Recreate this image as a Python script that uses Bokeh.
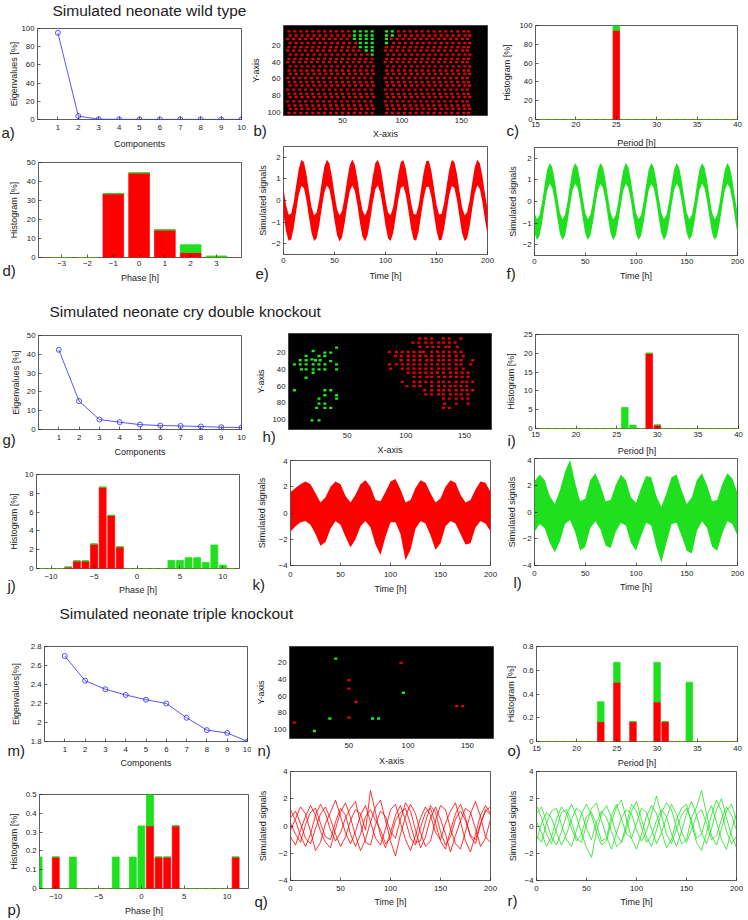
from math import pi
from bokeh.plotting import figure
from bokeh.layouts import column, row
from bokeh.models import Range1d, LinearAxis, FixedTicker, CustomJSTickFormatter, GridBox, Spacer
from bokeh.core.properties import value
from bokeh.embed import file_html
from bokeh.resources import INLINE

FONT = "Liberation Sans"
RED = "#ff0000"
GREEN = "#1fe01f"
BLUE = "#2a2aff"
TXT_COLOR = "#222222"
TICK_FS = "7.8px"
AX_FS = "9px"
TITLE_FS = "15.5px"
PANEL_FS = "15px"

# ------------------------------------------------------------------ data
components = [1, 2, 3, 4, 5, 6, 7, 8, 9, 10]
eig_wt = [95.2, 3.8, 0.3, 0.2, 0.1, 0.1, 0.1, 0.1, 0.1, 0.1]
eig_cry = [42.4, 15.1, 5.3, 3.9, 2.6, 2.1, 1.9, 1.6, 1.2, 1.05]
eig_tko = [2.70, 2.44, 2.35, 2.29, 2.24, 2.20, 2.05, 1.92, 1.89, 1.80]

period_bins = [15, 16, 17, 18, 19, 20, 21, 22, 23, 24, 25, 26, 27, 28, 29, 30, 31, 32, 33, 34, 35, 36, 37, 38, 39, 40]
wt_period_red = [0, 0, 0, 0, 0, 0, 0, 0, 0, 0, 95, 0, 0, 0, 0, 0, 0, 0, 0, 0, 0, 0, 0, 0, 0, 0]
wt_period_green = [0, 0, 0, 0, 0, 0, 0, 0, 0, 0, 5, 0, 0, 0, 0, 0, 0, 0, 0, 0, 0, 0, 0, 0, 0, 0]
cry_period_red = [0, 0, 0, 0, 0, 0, 0, 0, 0, 0, 0, 0, 0, 0, 20, 0.9, 0, 0, 0, 0, 0, 0, 0, 0, 0, 0]
cry_period_green = [0, 0, 0, 0, 0, 0, 0, 0, 0, 0, 0, 5.6, 0.9, 0, 0, 0, 0, 0, 0, 0, 0, 0, 0, 0, 0, 0]
tko_period_red = [0, 0, 0, 0, 0, 0, 0, 0, 0.167, 0, 0.5, 0, 0.167, 0, 0, 0.333, 0.167, 0, 0, 0, 0, 0, 0, 0, 0, 0]
tko_period_green = [0, 0, 0, 0, 0, 0, 0, 0, 0.167, 0, 0.167, 0, 0, 0, 0, 0.333, 0, 0, 0, 0.5, 0, 0, 0, 0, 0, 0]

wt_phase_bins = [-3, -2, -1, 0, 1, 2, 3]
wt_phase_red = [0, 0, 33.6, 44.5, 14.5, 2.6, 0]
wt_phase_green = [0, 0, 0, 0, 0, 4.1, 0.8]

cry_phase_bins = [-11, -10, -9, -8, -7, -6, -5, -4, -3, -2, -1, 0, 1, 2, 3, 4, 5, 6, 7, 8, 9, 10, 11]
cry_phase_red = [0, 0, 0, 0.15, 0.8, 0.8, 2.6, 8.65, 5.65, 2.3, 0, 0, 0, 0, 0, 0, 0, 0, 0, 0, 0, 0, 0]
cry_phase_green = [0, 0, 0, 0, 0, 0, 0, 0, 0, 0, 0, 0, 0, 0, 0, 0.85, 0.85, 1.15, 1.15, 0.65, 2.5, 0.35, 0]

tko_phase_bins = [-12, -11, -10, -9, -8, -7, -6, -5, -4, -3, -2, -1, 0, 1, 2, 3, 4, 5, 6, 7, 8, 9, 10, 11]
tko_phase_red = [0, 0, 0.167, 0, 0, 0, 0, 0, 0, 0, 0, 0, 0, 0.333, 0.167, 0.167, 0.333, 0, 0, 0, 0, 0, 0, 0.167]
tko_phase_green = [0.167, 0, 0, 0, 0.167, 0, 0, 0, 0, 0.167, 0, 0.167, 0.333, 0.167, 0, 0, 0, 0, 0, 0, 0, 0, 0, 0]

# wild type cell map (grid of cells, green ones listed; each row slightly offset as in the picture)
wt_cols = [5, 10, 15, 20, 25, 30, 35, 40, 45, 50, 55, 60, 65, 70, 75,
           87, 92, 97, 102, 107, 112, 117, 122, 127, 132, 137, 142, 147, 152, 156]
wt_rows = [3, 8, 12, 17, 22, 26, 31, 36, 40, 45, 50, 54, 59, 64, 68, 73, 78, 82, 87, 92, 96, 101]
wt_row_shift = [0, 1, -1, 1, 0, -1, 1, 0, -1, 1, 0, 1, -1, 0, 1, -1, 0, 1, -1, 0, 1, 0]
wt_green_x = [60, 65, 70, 75, 87, 92, 60, 65, 70, 75, 87, 92, 60, 65, 70, 75, 87, 65, 70, 75, 87, 65, 70, 75, 70, 75, 75]
wt_green_y = [3, 3, 3, 3, 3, 3, 8, 8, 8, 8, 8, 8, 12, 12, 12, 12, 12, 17, 17, 17, 17, 22, 22, 22, 26, 26, 31]

# cry double knockout cell map
cry_green_x = [21, 41, 31, 36, 15, 26, 31, 20, 10, 15, 23, 27, 36, 5, 10, 15, 21, 26, 31, 41,
               11, 15, 21, 26, 31, 41, 21, 15, 5, 31, 36, 31, 41, 26, 41, 31, 26, 24, 31, 36, 20, 26]
cry_green_y = [18, 14, 20, 20, 24, 24, 24, 28, 29, 29, 29, 29, 30, 34, 34, 34, 34, 34, 34, 34,
               40, 40, 40, 40, 40, 40, 44, 50, 65, 65, 65, 71, 71, 75, 75, 81, 81, 86, 86, 86, 101, 101]
cry_red_rows = {
    3: [112, 117, 122, 132, 137, 147],
    8: [106, 111, 117, 122, 128, 132, 137, 142],
    13: [112, 118, 123, 128, 134, 137, 144],
    19: [86, 92, 97, 102, 107, 112, 115, 122, 127, 132, 137, 142, 147],
    24: [91, 96, 102, 107, 112, 117, 122, 128, 132, 137, 143, 149],
    29: [96, 102, 107, 112, 118, 122, 128, 132, 137, 143, 147, 157],
    34: [86, 92, 97, 102, 107, 112, 117, 122, 127, 132, 137, 143, 147, 155],
    39: [87, 97, 102, 107, 112, 117, 122, 128, 132, 137, 143, 149],
    44: [102, 107, 112, 117, 122, 127, 132, 138, 143, 148, 153],
    49: [107, 112, 118, 122, 128, 133, 138, 143, 148, 153],
    55: [97, 107, 112, 117, 122, 128, 132, 137, 143, 148, 152, 157],
    60: [101, 107, 112, 122, 128, 133, 138, 142, 147, 152],
    65: [116, 122, 128, 132, 137, 143, 148, 152, 157],
    70: [117, 122, 128, 132, 138, 143, 147, 153],
    75: [132, 137, 143, 148, 153],
    81: [133, 143, 153],
    86: [132, 137],
}

# triple knockout cell map
tko_red_x = [94, 50, 50, 56, 141, 146, 50, 4]
tko_red_y = [20, 41, 51, 67, 72, 72, 86, 92]
tko_green_x = [39, 96, 34, 70, 75, 21]
tko_green_y = [15, 56, 87, 87, 87, 102]

# simulated signals (read every 2.5 h / 5 h)
t_fine = [i * 2.5 for i in range(81)]
wt_red_mid = [-0.05, -0.82, -1.26, -1.21, -0.68, 0.12, 0.87, 1.27, 1.18, 0.62, -0.18, -0.91, -1.28, -1.15,
              -0.56, 0.24, 0.96, 1.29, 1.12, 0.50, -0.31, -1.00, -1.30, -1.08, -0.44, 0.38, 1.04, 1.30,
              1.04, 0.38, -0.44, -1.08, -1.30, -1.00, -0.31, 0.50, 1.12, 1.29, 0.96, 0.25, -0.56, -1.15,
              -1.28, -0.91, -0.18, 0.62, 1.18, 1.27, 0.86, 0.12, -0.68, -1.21, -1.26, -0.82, -0.05, 0.73,
              1.23, 1.24, 0.76, -0.02, -0.79, -1.25, -1.22, -0.71, 0.08, 0.84, 1.27, 1.19, 0.65, -0.15,
              -0.89, -1.28, -1.16, -0.59, 0.21, 0.94, 1.29, 1.13, 0.53, -0.28, -0.98]
wt_red_spread = 0.6
wt_green_mid = [-1.0, -1.3, -1.1, -0.5, 0.3, 1.0, 1.3, 1.1, 0.5, -0.3, -1.0, -1.3, -1.1, -0.5, 0.3, 1.0,
                1.3, 1.1, 0.5, -0.3, -1.0, -1.3, -1.1, -0.5, 0.3, 1.0, 1.3, 1.1, 0.5, -0.3, -1.0, -1.3,
                -1.1, -0.5, 0.3, 1.0, 1.3, 1.1, 0.5, -0.3, -1.0, -1.3, -1.1, -0.5, 0.3, 1.0, 1.3, 1.1,
                0.5, -0.3, -1.0, -1.3, -1.1, -0.5, 0.3, 1.0, 1.3, 1.1, 0.5, -0.3, -1.0, -1.3, -1.1, -0.5,
                0.3, 1.0, 1.3, 1.1, 0.5, -0.3, -1.0, -1.3, -1.1, -0.5, 0.3, 1.0, 1.3, 1.1, 0.5, -0.3, -1.0]
wt_green_spread = 0.48

t_coarse = [i * 5 for i in range(41)]
cry_red_upper = [1.6, 1.9, 2.2, 2.4, 2.2, 1.5, 0.8, 1.2, 2.0, 2.4, 2.2, 1.3, 0.8, 1.4, 2.2, 2.5, 2.0,
                 1.0, 0.9, 1.6, 2.4, 2.6, 1.8, 0.8, 1.0, 1.9, 2.5, 2.3, 1.5, 0.8, 1.1, 2.0, 2.5, 2.3,
                 1.4, 0.8, 1.0, 1.8, 2.4, 2.3, 1.6]
cry_red_lower = [-1.4, -1.0, -0.7, -0.6, -0.9, -1.6, -2.5, -2.2, -1.2, -0.6, -0.9, -1.8, -2.6, -2.0,
                 -1.0, -0.6, -1.1, -2.4, -3.2, -1.8, -0.7, -0.7, -1.6, -3.6, -2.8, -1.2, -0.6, -0.8,
                 -1.7, -2.8, -2.3, -1.0, -0.6, -0.8, -1.6, -2.4, -2.3, -1.1, -0.6, -0.8, -1.4]
cry_green_upper = [2.3, 2.8, 2.4, 1.2, 0.6, 1.6, 3.0, 3.9, 2.2, 0.8, 1.0, 2.4, 2.9, 2.0, 0.8, 0.9, 2.0,
                   2.8, 2.4, 1.1, 0.7, 1.8, 2.7, 2.6, 1.2, 0.4, 1.4, 2.6, 2.8, 1.6, 0.6, 1.1, 2.4, 2.9,
                   2.0, 0.8, 0.9, 2.1, 2.9, 2.5, 1.4]
cry_green_lower = [-1.5, -0.9, -1.2, -2.3, -3.0, -2.2, -0.9, -0.6, -1.5, -2.9, -2.6, -1.2, -0.7, -1.3,
                   -2.5, -2.7, -1.5, -0.8, -1.0, -2.3, -2.9, -1.8, -0.8, -1.0, -2.6, -3.8, -2.3, -0.9,
                   -0.8, -1.8, -2.9, -3.1, -1.4, -0.7, -1.2, -2.6, -2.9, -1.6, -0.7, -0.9, -1.8]

tko_red_lines = [
    [0.6, 1.1, 0.2, -0.9, -1.3, -0.2, 0.9, 1.4, 0.5, -0.6, -1.5, -0.8, 0.4, 1.2, 0.9, -0.3, 2.6, 1.0, -0.7, -1.6, -0.5,
     0.8, 1.5, 0.4, -0.9, -1.4, -0.1, 1.0, 1.3, 0.2, -1.1, -1.7, -0.3, 0.9, 1.6, 0.6, -0.8, -1.3, 0.1, 1.2, 0.8],
    [-0.8, -1.4, -0.3, 0.7, 1.5, 0.8, -0.4, -1.2, -1.6, -0.2, 1.0, 1.7, 0.6, -0.7, -1.8, -1.0, 0.3, 1.4, 1.9, 0.4, -1.1,
     -2.2, -0.6, 0.7, 1.6, 0.9, -0.5, -1.5, -1.1, 0.4, 1.5, 1.2, -0.2, -1.3, -1.7, -0.4, 0.9, 1.8, 0.7, -0.8, -1.2],
    [1.2, 0.4, -0.7, -1.5, -0.6, 0.8, 1.6, 0.9, -0.3, -1.1, -0.5, 0.6, 1.3, 1.8, 0.2, -1.2, -1.4, 0.1, 1.1, 0.7, -0.4,
     -0.9, 0.5, 1.7, 1.1, -0.3, -1.6, -0.8, 0.6, 1.4, 0.5, -0.6, -1.9, -0.7, 0.4, 1.3, 1.0, -0.2, -1.5, -0.9, 0.5],
    [-0.3, 0.5, 1.4, 0.9, -0.4, -1.8, -1.2, 0.2, 1.0, 1.9, 0.7, -0.5, -1.3, -0.4, 0.8, 1.5, 0.3, -0.9, -1.4, -0.2, 1.2,
     1.6, 0.2, -1.0, -1.8, -0.7, 0.6, 1.4, 0.8, -0.5, -1.0, 0.2, 1.1, 1.7, 0.3, -1.1, -1.9, -0.6, 0.8, 1.5, 0.9],
    [0.2, -0.6, -1.2, 0.1, 1.0, 1.3, 0.2, -0.8, -1.0, 0.3, 1.3, 0.8, -0.6, -1.5, -0.6, 0.7, 1.2, 0.4, -0.3, -1.3, -0.9,
     0.4, 1.0, 1.3, 0.1, -1.2, -1.1, 0.3, 1.5, 1.0, -0.4, -1.4, -0.8, 0.5, 1.1, 0.4, -0.7, -1.0, 0.2, 1.1, 1.4],
]
tko_green_lines = [
    [0.9, 1.4, 0.3, -0.8, -1.4, -0.4, 0.8, 1.6, 0.7, -0.5, -1.6, -2.3, -0.4, 0.9, 1.5, 0.6, -0.6, -1.2, -0.2, 1.1, 1.8,
     0.5, -0.8, -1.5, -0.3, 1.0, 1.7, 1.2, -0.1, -1.3, -1.0, 0.6, 1.4, 2.6, 0.9, -0.7, -1.4, -0.2, 1.1, 1.6, 0.4],
    [-0.7, -1.2, 0.2, 1.1, 1.3, 0.1, -1.0, -1.5, -0.3, 0.9, 1.6, 0.8, -0.5, -1.4, -1.1, 0.3, 1.4, 1.9, 0.5, -0.9, -1.7,
     -0.6, 0.7, 1.5, 0.9, -0.4, -1.6, -1.0, 0.5, 1.3, 1.6, 0.2, -1.2, -1.8, -0.5, 0.8, 1.9, 1.1, -0.4, -1.3, -0.8],
    [1.5, 0.6, -0.6, -1.3, -0.2, 1.0, 1.2, 0.3, -0.9, -1.2, 0.1, 1.3, 1.7, 0.4, -0.8, -1.7, -0.5, 0.6, 1.2, 0.9, -0.3,
     -1.1, -0.4, 0.9, 2.2, 0.8, -0.6, -1.3, -0.2, 0.8, 1.3, 0.4, -0.9, -0.6, 0.7, 1.5, 0.3, -1.0, -1.7, -0.3, 0.9],
    [-1.1, 0.2, 1.0, 0.6, -0.5, -1.4, -0.6, 0.5, 1.3, 1.0, -0.2, -1.0, 0.3, 1.1, 0.6, -0.4, -1.5, -1.2, 0.2, 1.6, 1.1,
     -0.1, -1.2, -0.7, 0.4, 1.2, 0.7, -0.6, -1.5, -0.4, 0.9, 1.8, 0.8, -0.5, -1.3, -0.2, 1.2, 2.0, 0.6, -0.7, -1.6],
    [0.3, -0.5, -1.5, -0.8, 0.5, 1.4, 0.9, -0.2, -1.1, -0.6, 0.7, 1.0, 0.1, -1.1, -0.9, 0.8, 1.6, 0.5, -0.6, -0.9, 0.2,
     1.3, 1.0, -0.2, -1.3, -0.5, 0.6, 1.6, 0.9, -0.4, -1.2, -0.3, 0.8, 1.2, 0.2, -1.0, -0.7, 0.5, 1.4, 0.8, -0.3],
]

section_titles = ["Simulated neonate wild type", "Simulated neonate cry double knockout",
                  "Simulated neonate triple knockout"]

# ------------------------------------------------------------------ helpers
def tick_formatter():
    return CustomJSTickFormatter(code="return String(tick).replace('-', '\\u2212')")


def make_axis(ticks, standoff, black=False):
    ax = LinearAxis(ticker=FixedTicker(ticks=ticks), formatter=tick_formatter())
    ax.axis_line_color = None
    ax.major_tick_in = 3
    ax.major_tick_out = 0
    ax.major_tick_line_color = None if black else "#222222"
    ax.major_tick_line_width = 0.7
    ax.minor_tick_line_color = None
    ax.major_label_text_font = FONT
    ax.major_label_text_font_size = TICK_FS
    ax.major_label_text_color = TXT_COLOR
    ax.major_label_standoff = standoff
    return ax


# texts placed on a transparent overlay (page pixel coordinates)
TXT = {"tag": ([], [], []), "xt": ([], [], []), "yt": ([], [], []), "title": ([], [], [])}


def add_text(kind, s, x, y):
    xs, ys, ts = TXT[kind]
    xs.append(x)
    ys.append(y)
    ts.append(s)


def panel(cx, cy, frame, xr, yr, xticks, yticks, s1, black=False):
    x0, x1 = cx
    y0, y1 = cy
    L, T, R, B = frame
    p = figure(width=x1 - x0, height=y1 - y0,
               x_range=Range1d(*xr), y_range=Range1d(*yr),
               x_axis_type=None, y_axis_type=None,
               min_border_left=L - x0, min_border_right=x1 - R,
               min_border_top=T - y0, min_border_bottom=y1 - B,
               output_backend="svg", toolbar_location=None)
    p.outline_line_color = "#333333"
    p.outline_line_width = 0.8
    p.background_fill_color = "black" if black else "white"
    p.border_fill_color = "white"
    p.add_layout(make_axis(xticks, s1, black), "below")
    p.add_layout(make_axis(yticks, 3, black), "left")
    return p


def texts(frame, xlabel, xlab_y, ylabel, ylab_x, tag, tag_x, tag_y):
    L, T, R, B = frame
    add_text("xt", xlabel, (L + R) / 2, xlab_y)
    add_text("yt", ylabel, ylab_x, (T + B) / 2)
    add_text("tag", tag, tag_x, tag_y)


def stacked(p, bins, red, green):
    top = [r + g for r, g in zip(red, green)]
    p.vbar(x=bins, bottom=0, top=red, width=0.8, fill_color=RED, line_color=RED, line_width=0.8)
    p.vbar(x=bins, bottom=red, top=top, width=0.8, fill_color=GREEN, line_color=GREEN, line_width=0.8)


def eig_plot(p, vals):
    p.line(components, vals, line_color=BLUE, line_width=0.8)
    p.scatter(components, vals, marker="circle", size=5, fill_color=None, line_color=BLUE, line_width=0.8)


def cells(p, xs, ys, color):
    p.rect(x=xs, y=ys, width=2.6, height=2.8, fill_color=color, line_color=None)


def band(p, t, mid, spread, color):
    p.varea(x=t, y1=[m - spread for m in mid], y2=[m + spread for m in mid], fill_color=color)


# ------------------------------------------------------------------ geometry (page px)
C1, C2, C3 = (0, 251), (251, 500), (500, 746)
TS = [0, 50, 100, 150, 200]
Y4 = [-4, -2, 0, 2, 4]
Y2 = [-2, -1, 0, 1, 2]
PER = [15, 20, 25, 30, 35, 40]
MAPX = [50, 100, 150]
MAPY = [20, 40, 60, 80, 100]

add_text("title", section_titles[0], 52, 10.3)
add_text("title", section_titles[1], 49, 310.5)
add_text("title", section_titles[2], 59, 613)

# ---- wild type
fa = (37, 28, 241, 119)
pa = panel(C1, (0, 152), fa, (0, 10), (0, 100), components, [0, 20, 40, 60, 80, 100], 5)
eig_plot(pa, eig_wt)
texts(fa, "Components", 143.5, "Eigenvalues [%]", 13, "a)", 1, 131.5)

fd = (38, 162, 241, 257)
pd_ = panel(C1, (152, 292), fd, (-3.9, 3.97), (0, 50), wt_phase_bins, [0, 10, 20, 30, 40, 50], 3)
stacked(pd_, wt_phase_bins, wt_phase_red, wt_phase_green)
texts(fd, "Phase [h]", 277, "Histogram [%]", 13, "d)", 2, 270)

fb = (283, 25, 487, 115)
pb = panel(C2, (0, 143), fb, (0.4, 172), (104, -4), MAPX, MAPY, 2, black=True)
green_set = set(zip(wt_green_x, wt_green_y))
wt_red_x, wt_red_y = [], []
for yy, sh in zip(wt_rows, wt_row_shift):
    for xx in wt_cols:
        if (xx, yy) not in green_set:
            wt_red_x.append(xx + sh)
            wt_red_y.append(yy)
cells(pb, wt_red_x, wt_red_y, "#e80000")
cells(pb, wt_green_x, wt_green_y, "#22e822")
texts(fb, "X-axis", 133, "Y-axis", 255.5, "b)", 253, 129.5)

fe = (283, 146, 487, 254)
pe = panel(C2, (143, 292), fe, (0, 200), (-2.5, 2.5), TS, Y2, 3)
band(pe, t_fine, wt_red_mid, wt_red_spread, RED)
texts(fe, "Time [h]", 275, "Simulated signals", 262, "e)", 255, 272.5)

fc = (535, 25, 737, 119)
pc = panel(C3, (0, 146), fc, (15, 40), (0, 100), PER, [0, 20, 40, 60, 80, 100], 2)
stacked(pc, period_bins, wt_period_red, wt_period_green)
texts(fc, "Period [h]", 142, "Histogram [%]", 506, "c)", 506, 130)

ff = (534, 147, 737, 255)
pf = panel(C3, (146, 292), ff, (0, 200), (-2.5, 2.5), TS, Y2, 3)
band(pf, t_fine, wt_green_mid, wt_green_spread, GREEN)
texts(ff, "Time [h]", 275, "Simulated signals", 512, "f)", 506, 272.5)

# ---- cry double knockout
fg = (38, 335, 241, 429)
pg = panel(C1, (322, 462), fg, (0, 10), (0, 50), components, [0, 10, 20, 30, 40, 50], 5)
eig_plot(pg, eig_cry)
texts(fg, "Components", 451, "Eigenvalues [%]", 15, "g)", 2, 439)

fj = (36, 474, 239, 568)
pj = panel(C1, (462, 600), fj, (-11.7, 11.93), (0, 10), [-10, -5, 0, 5, 10], [0, 2, 4, 6, 8, 10], 5)
stacked(pj, cry_phase_bins, cry_phase_red, cry_phase_green)
texts(fj, "Phase [h]", 589, "Histogram [%]", 13, "j)", 7, 585)

fh = (288, 333, 491, 429)
ph = panel(C2, (322, 458), fh, (0, 173), (112, -3), MAPX, MAPY, 3, black=True)
cry_red_x, cry_red_y = [], []
for yy, xs in cry_red_rows.items():
    for xx in xs:
        cry_red_x.append(xx)
        cry_red_y.append(yy)
cells(ph, cry_red_x, cry_red_y, "#e80000")
cells(ph, cry_green_x, cry_green_y, "#22e822")
texts(fh, "X-axis", 449, "Y-axis", 260, "h)", 262, 435.5)

fk = (290, 460, 490, 565)
pk = panel(C2, (458, 600), fk, (0, 200), (-4, 4), TS, Y4, 6)
pk.varea(x=t_coarse, y1=cry_red_lower, y2=cry_red_upper, fill_color=RED)
texts(fk, "Time [h]", 588, "Simulated signals", 261, "k)", 252, 583.5)

fi = (535, 334, 738, 428)
pi_ = panel(C3, (322, 457), fi, (15, 40), (0, 25), PER, [0, 5, 10, 15, 20, 25], 3)
stacked(pi_, period_bins, cry_period_red, cry_period_green)
texts(fi, "Period [h]", 450.5, "Histogram [%]", 510, "i)", 507, 439.5)

fl = (534, 458, 737, 565)
pl = panel(C3, (457, 600), fl, (0, 200), (-4, 4), TS, Y4, 5)
pl.varea(x=t_coarse, y1=cry_green_lower, y2=cry_green_upper, fill_color=GREEN)
texts(fl, "Time [h]", 586.7, "Simulated signals", 511, "l)", 513, 581.5)

# ---- triple knockout
fm = (44, 646, 247, 741)
pm = panel(C1, (630, 770), fm, (0, 10), (1.8, 2.8), components, [1.8, 2, 2.2, 2.4, 2.6, 2.8], 5)
eig_plot(pm, eig_tko)
texts(fm, "Components", 762, "Eigenvalues[%]", 15, "m)", 7, 749.5)

fp = (39, 794, 248, 888)
pp = panel(C1, (770, 918), fp, (-11.9, 12.5), (0, 0.5), [-10, -5, 0, 5, 10], [0, 0.1, 0.2, 0.3, 0.4, 0.5], 5)
stacked(pp, tko_phase_bins, tko_phase_red, tko_phase_green)
texts(fp, "Phase [h]", 910.5, "Histogram [%]", 13.3, "p)", 7, 909)

fn = (289, 646, 493, 738)
pn = panel(C2, (630, 768), fn, (0, 172), (111, 0.4), MAPX, MAPY, 4, black=True)
cells(pn, tko_red_x, tko_red_y, "#e80000")
cells(pn, tko_green_x, tko_green_y, "#22e822")
texts(fn, "X-axis", 760, "Y-axis", 260, "n)", 257, 749.5)

fq = (290, 771, 490, 880)
pq = panel(C2, (768, 918), fq, (0, 200), (-4, 4), TS, Y4, 5)
pq.multi_line([t_coarse] * len(tko_red_lines), tko_red_lines, line_color=RED, line_width=0.8)
texts(fq, "Time [h]", 901, "Simulated signals", 262, "q)", 254, 900.5)

fo = (536, 646, 737, 741)
po = panel(C3, (630, 768), fo, (15, 40), (0, 0.8), PER, [0, 0.2, 0.4, 0.6, 0.8], 4)
stacked(po, period_bins, tko_period_red, tko_period_green)
texts(fo, "Period [h]", 762, "Histogram [%]", 510, "o)", 507, 749.5)

fr = (536, 771, 736, 880)
pr = panel(C3, (768, 918), fr, (0, 200), (-4, 4), TS, Y4, 5)
pr.multi_line([t_coarse] * len(tko_green_lines), tko_green_lines, line_color=GREEN, line_width=0.8)
texts(fr, "Time [h]", 901, "Simulated signals", 512, "r)", 507, 900)

# ------------------------------------------------------------------ overlay with all free texts
W, H = 746, 918
overlay = figure(width=W, height=H, x_range=Range1d(0, W), y_range=Range1d(H, 0),
                 x_axis_type=None, y_axis_type=None, min_border=0,
                 output_backend="svg", toolbar_location=None)
overlay.outline_line_color = None
overlay.background_fill_color = None
overlay.border_fill_color = None
overlay.background_fill_alpha = 0
overlay.border_fill_alpha = 0

specs = {"title": (TITLE_FS, 0.0, "left"), "tag": (PANEL_FS, 0.0, "left"),
         "xt": (AX_FS, 0.0, "center"), "yt": (AX_FS, pi / 2, "center")}
for kind, (fs, ang, al) in specs.items():
    xs, ys, ts = TXT[kind]
    overlay.text(x=xs, y=ys, text=ts, angle=ang, text_align=al, text_baseline="middle",
                 text_font=value(FONT), text_font_size=value(fs), text_color=TXT_COLOR)

main = column(
    row(column(row(pa), row(pd_)), column(row(pb), row(pe)), column(row(pc), row(pf))),
    Spacer(width=W, height=30),
    row(column(row(pg), row(pj)), column(row(ph), row(pk)), column(row(pi_), row(pl))),
    Spacer(width=W, height=30),
    row(column(row(pm), row(pp)), column(row(pn), row(pq)), column(row(po), row(pr))),
)

root = GridBox(children=[(main, 0, 0), (overlay, 0, 0)], width=W, height=H)

with open("out.html", "w") as f_out:
    f_out.write(file_html(root, INLINE))
